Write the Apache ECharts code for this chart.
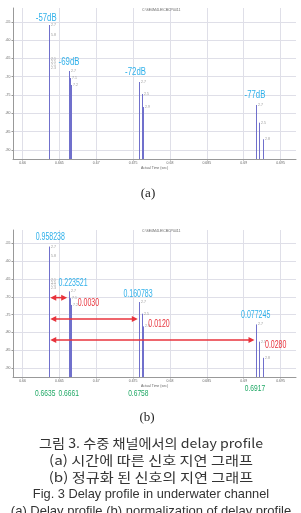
<!DOCTYPE html>
<html><head><meta charset="utf-8">
<script src="https://cdn.jsdelivr.net/npm/echarts@6/dist/echarts.min.js"></script>
<style>html,body{margin:0;padding:0;background:#fff}#c{width:301px;height:513px}</style>
</head><body><div id="c"></div>
<script>
// ---- data ----
const stemTimes = [0.66355,0.66357,0.66358,0.66359,0.66360,0.66361,
                   0.66626,0.66639,0.66653,
                   0.67584,0.67616,0.67638,
                   0.69167,0.69212,0.69258];
const stemDb = [-55.85,-58.6,-65.15,-65.97,-66.8,-67.6,
                -68.43,-70.35,-72.26,
                -71.44,-74.72,-78.28,
                -77.73,-82.57,-87.11];
const stemTags = ['2.7','5.8','2.1','2.5','7.1','2.3','2.7','7.1','7.2','2.7','2.5','2.9','2.7','2.5','2.8'];
const pathFirstStem = [0, 6, 9, 12];
const peakDbLabels = ['-57dB','-69dB','-72dB','-77dB'];
const normAmpLabels = ['0.958238','0.223521','0.160783','0.077245'];
const arrivalLabels = ['0.6635','0.6661','0.6758','0.6917'];
const delayLabels = ['0.0030','0.0120','0.0280'];
const arrowLevelDb = [-70.2, -76.2, -82.1];
const xRange = [0.6587, 0.6971];
const yRange = [-92.5, -51.2];
const plotTitle = 'C:\\SE0M4LE\\CBCP0411';

// ---- styles ----
const STEM = '#7070cc', CYAN = '#2fb0ea', RED = '#e8333c', GREEN = '#1fa865';
const NUMFONT = 'Liberation Sans';
const peakOff = [[-2.5,-6.7],[0.3,-9],[-3.8,-10],[-1,-10]];
const normOff = [[1.5,-9.3],[4.3,-8.5],[-1.3,-8],[-0.3,-9.3]];
const greenOff = [[-3.5,16],[0,16],[-1,16],[-1,11]];

const chart = echarts.init(document.getElementById('c'));
const stemData = stemTimes.map((t,i)=>[t, stemDb[i]]);
const peakData = pathFirstStem.map(i=>[stemTimes[i], stemDb[i]]);

function stemItem(params, api){
  const top = api.coord([api.value(0), api.value(1)]);
  const base = api.coord([api.value(0), yRange[0]]);
  const x = Math.round(top[0]) + 0.5;
  return {type:'group', children:[
    {type:'line', shape:{x1:x, y1:top[1], x2:x, y2:base[1]}, style:{stroke:STEM, lineWidth:1}},
    {type:'text', x:x+1.5, y:top[1], style:{text:stemTags[params.dataIndex], fontSize:3.5, fill:'#999', verticalAlign:'middle', fontFamily:NUMFONT}}
  ]};
}
function labelItem(texts, offs, color, sx){
  return function(params, api){
    const p = api.coord([api.value(0), api.value(1)]);
    const o = offs[params.dataIndex];
    return {type:'text', x:p[0]+o[0], y:p[1]+o[1], scaleX:sx, scaleY:1,
      style:{text:texts[params.dataIndex], fontSize:10, fill:color, align:'center', verticalAlign:'middle', fontFamily:NUMFONT}};
  };
}
function greenItem(params, api){
  const p = api.coord([api.value(0), yRange[0]]);
  const o = greenOff[params.dataIndex];
  return {type:'text', x:p[0]+o[0], y:p[1]+o[1], scaleX:0.7,
    style:{text:arrivalLabels[params.dataIndex], fontSize:9.5, fill:GREEN, align:'center', verticalAlign:'middle', fontFamily:NUMFONT}};
}
function arrowItem(params, api){
  const k = params.dataIndex;
  const t0 = stemTimes[pathFirstStem[0]], t1 = stemTimes[pathFirstStem[k+1]];
  const a = api.coord([t0, arrowLevelDb[k]]), b = api.coord([t1, arrowLevelDb[k]]);
  const x1 = a[0]+1.5, x2 = b[0]-1.5, y = a[1];
  const L = 6, H = 3;
  return {type:'group', children:[
    {type:'line', shape:{x1:x1+L-1, y1:y, x2:x2-L+1, y2:y}, style:{stroke:RED, lineWidth:1.5}},
    {type:'polygon', shape:{points:[[x1,y],[x1+L,y-H],[x1+L,y+H]]}, style:{fill:RED}},
    {type:'polygon', shape:{points:[[x2,y],[x2-L,y-H],[x2-L,y+H]]}, style:{fill:RED}},
    {type:'text', x:x2+10.5, y:y+5.5, scaleX:0.7, style:{text:delayLabels[k], fontSize:10, fill:RED, align:'left', verticalAlign:'middle', fontFamily:NUMFONT}}
  ]};
}

function xAxis(gi){
  return {type:'value', gridIndex:gi, min:xRange[0], max:xRange[1], splitNumber:8,
    name:'Actual Time (sec)', nameLocation:'middle', nameGap:7,
    nameTextStyle:{fontSize:3.5, color:'#666', fontFamily:NUMFONT},
    axisLine:{lineStyle:{color:'#999', width:1}},
    axisTick:{show:true, length:1.5, lineStyle:{color:'#999'}},
    axisLabel:{fontSize:3.5, color:'#666', margin:2.5, showMinLabel:false, showMaxLabel:false, fontFamily:NUMFONT,
      formatter:v=>v.toFixed(3).replace(/0+$/,'')},
    splitLine:{show:true, showMinLine:false, showMaxLine:false, lineStyle:{color:'#dfdfe8', width:1}}};
}
function yAxis(gi){
  return {type:'value', gridIndex:gi, min:yRange[0], max:yRange[1], splitNumber:8,
    name:'Amplitude (dB)', nameLocation:'middle', nameGap:8,
    nameTextStyle:{fontSize:3.5, color:'#666', fontFamily:NUMFONT},
    axisLine:{show:true, lineStyle:{color:'#999', width:1}},
    axisTick:{show:true, length:1.5, lineStyle:{color:'#999'}},
    axisLabel:{fontSize:3.5, color:'#666', margin:2.5, showMinLabel:false, showMaxLabel:false, fontFamily:NUMFONT,
      formatter:v=>String(Math.round(v))},
    splitLine:{show:true, showMinLine:false, showMaxLine:false, lineStyle:{color:'#dfdfe8', width:1}}};
}

const capFontK = '"Noto Sans CJK KR", sans-serif';
const capFontE = '"Liberation Sans", Arial, sans-serif';
const captions = [
  ['그림 3. 수중 채널에서의 delay profile', 443, capFontK, 1.09],
  ['(a) 시간에 따른 신호 지연 그래프', 460, capFontK, 1.17],
  ['(b) 정규화 된 신호의 지연 그래프', 477, capFontK, 1.17],
  ['Fig. 3 Delay profile in underwater channel', 494, capFontE, 0.985],
  ['(a) Delay profile (b) normalization of delay profile', 511, capFontE, 1.0]
];

chart.setOption({
  animation:false,
  backgroundColor:'#fff',
  title:[
    {text:plotTitle, left:137, top:3, textStyle:{fontSize:3.5, color:'#666', fontWeight:'normal', fontFamily:NUMFONT}},
    {text:plotTitle, left:137, top:224, textStyle:{fontSize:3.5, color:'#666', fontWeight:'normal', fontFamily:NUMFONT}}
  ],
  grid:[
    {left:13, top:8, width:283, height:151, containLabel:false, outerBoundsMode:'none'},
    {left:13, top:230, width:283, height:147, containLabel:false, outerBoundsMode:'none'}
  ],
  xAxis:[xAxis(0), xAxis(1)],
  yAxis:[yAxis(0), yAxis(1)],
  series:[
    {type:'custom', xAxisIndex:0, yAxisIndex:0, data:stemData, renderItem:stemItem, silent:true},
    {type:'custom', xAxisIndex:1, yAxisIndex:1, data:stemData, renderItem:stemItem, silent:true},
    {type:'custom', xAxisIndex:0, yAxisIndex:0, data:peakData, renderItem:labelItem(peakDbLabels, peakOff, CYAN, 0.78), silent:true},
    {type:'custom', xAxisIndex:1, yAxisIndex:1, data:peakData, renderItem:labelItem(normAmpLabels, normOff, CYAN, 0.7), silent:true},
    {type:'custom', xAxisIndex:1, yAxisIndex:1, data:peakData, renderItem:greenItem, silent:true},
    {type:'custom', xAxisIndex:1, yAxisIndex:1, data:delayLabels.map((d,i)=>[stemTimes[pathFirstStem[i+1]], arrowLevelDb[i]]), renderItem:arrowItem, silent:true}
  ],
  graphic:[
    {type:'text', x:148, y:194, style:{text:'(a)', fontSize:13, fill:'#222', align:'center', verticalAlign:'middle', fontFamily:'"Liberation Serif", serif'}},
    {type:'text', x:147, y:418, style:{text:'(b)', fontSize:13, fill:'#222', align:'center', verticalAlign:'middle', fontFamily:'"Liberation Serif", serif'}}
  ].concat(captions.map(c=>({type:'text', x:151, y:c[1], scaleX:c[3], style:{text:c[0], fontSize:13, fill:'#333', align:'center', verticalAlign:'middle', fontFamily:c[2]}})))
});
</script></body></html>
